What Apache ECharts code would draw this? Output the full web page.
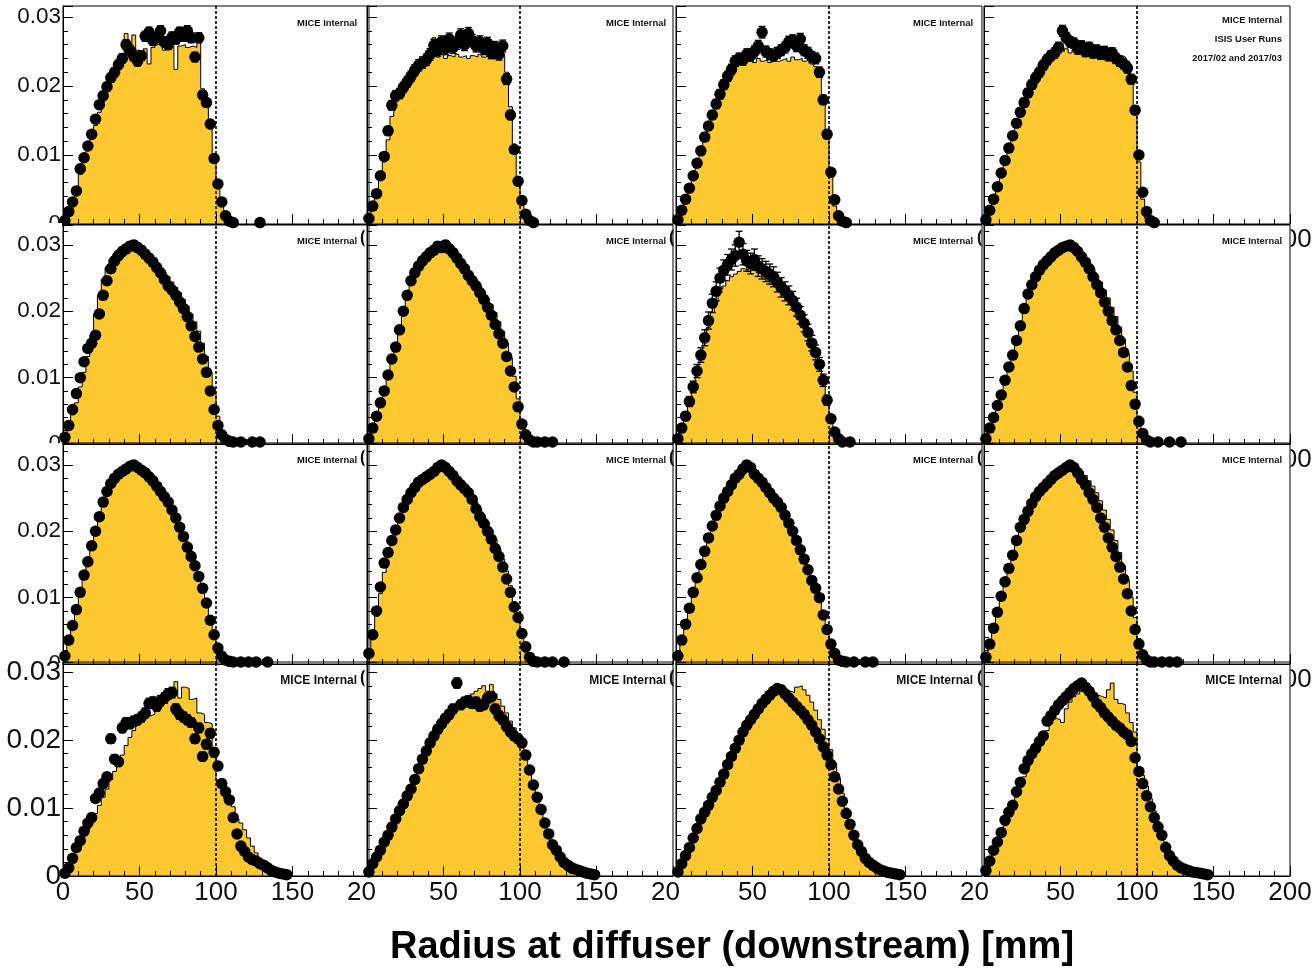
<!DOCTYPE html>
<html>
<head>
<meta charset="utf-8">
<script src="https://cdn.jsdelivr.net/npm/echarts@6/dist/echarts.min.js"></script>
<style>
  html, body { margin: 0; padding: 0; background: #fff; }
  #chart { width: 1316px; height: 973px; }
</style>
</head>
<body>
<div id="chart"></div>
<script>
// Radius at the downstream diffuser, 16 beam settings (4 x 4 pads).
// Values are fractions of tracks per 2.5 mm bin, stored in units of 1e-3.
// hist_* : simulation histogram, data_* : measured points.
const binWidth = 2.5; // mm
const xTicks = [0, 50, 100, 150, 200];
const yTicks = [0, 10, 20, 30];
const yTickLabels = ['0', '0.01', '0.02', '0.03'];
const cutLine = 100; // mm

// ---- row 1
const data_r1c1 = [0.5,1.8,3.2,4.8,8.0,9.6,11.3,13.0,15.2,17.3,18.6,19.9,21.2,22.0,23.1,24.0,26.0,25.2,24.3,23.6,24.4,27.2,27.8,26.6,27.0,28.0,26.4,26.0,27.1,26.8,27.8,27.2,28.0,27.0,24.2,27.0,18.7,17.6,14.5,9.5,5.8,3.2,1.2,0.4,0.2,0,0,0,0,0,0,0.2];
const hist_r1c1 = [0.6,1.9,3.4,5.0,7.2,9.0,10.8,12.5,14.3,16.2,17.8,19.2,20.6,21.8,23.0,24.0,27.6,24.6,27.4,25.2,24.8,25.4,23.2,25.6,26.0,25.8,25.2,25.6,25.8,22.4,25.8,26.0,25.6,25.8,25.6,26.4,19.6,17.2,13.8,9.8,6.4,2.8,0.4,0.1];
const data_r1c2 = [0.8,2.6,4.4,7.0,9.8,13.5,17.2,18.6,18.9,19.8,20.6,21.4,22.3,23.0,23.4,23.8,24.6,25.9,25.2,26.4,25.4,26.8,25.6,26.2,27.4,26.0,27.6,26.6,25.8,26.4,25.4,26.2,24.8,25.6,24.6,25.8,21.0,15.8,10.8,6.2,3.4,1.4,0.5,0.2];
const hist_r1c2 = [0.7,2.3,4.0,6.4,9.0,12.2,15.6,17.8,18.6,19.4,20.4,21.2,22.2,23.0,23.6,24.0,24.2,27.0,24.2,26.8,24.0,24.4,24.2,24.6,24.2,24.4,24.0,24.4,24.2,24.6,24.2,24.4,24.0,24.2,24.4,24.6,22.0,17.0,11.6,6.8,3.0,0.8,0.2];
const data_r1c3 = [0.6,2.0,3.6,5.2,7.0,8.8,10.6,12.6,14.2,15.8,17.4,18.8,20.2,21.4,22.4,23.6,24.0,23.8,24.6,24.4,25.0,25.8,27.8,25.0,24.6,24.4,24.8,25.2,25.6,26.4,26.6,25.8,26.8,25.2,24.8,24.2,24.0,22.0,18.0,13.0,7.5,3.5,1.2,0.4,0.2];
const hist_r1c3 = [0.6,1.9,3.4,5.0,6.8,8.6,10.4,12.2,14.0,15.6,17.2,18.6,20.0,21.2,22.2,23.0,23.4,23.2,23.6,23.8,23.4,24.0,23.6,23.8,23.4,24.2,23.6,23.8,24.0,23.6,24.2,23.8,24.0,23.6,23.8,23.2,22.8,21.6,17.6,12.4,7.0,2.6,0.6];
const data_r1c4 = [0.6,2.0,3.6,5.4,7.4,9.2,11.0,12.8,14.6,16.2,17.6,19.0,20.2,21.2,22.0,23.0,23.8,24.4,24.8,25.6,28.0,27.0,26.4,26.2,25.4,25.8,25.0,25.6,24.8,25.2,24.6,25.0,24.4,24.8,24.0,23.6,23.2,22.6,21.0,16.5,10.0,4.6,1.8,0.5,0.2];
const hist_r1c4 = [0.6,1.9,3.5,5.2,7.0,8.8,10.6,12.4,14.2,15.8,17.2,18.6,19.8,21.0,22.0,22.8,23.6,24.2,24.8,25.2,25.0,25.4,24.8,25.2,24.6,25.0,24.4,24.8,24.6,24.2,24.6,24.4,24.2,24.6,24.0,24.4,24.2,23.6,21.6,16.0,9.0,3.6,0.8,0.2];

// ---- row 2
const data_r2c1 = [1.0,2.8,5.2,7.6,10.0,12.4,14.4,15.2,16.4,19.6,22.4,24.6,26.4,27.6,28.4,29.0,29.4,29.8,30.0,29.6,29.2,28.6,28.0,27.4,26.6,25.8,24.8,23.8,23.2,22.4,21.4,20.4,19.2,17.8,16.2,14.6,12.8,10.8,8.0,5.2,2.8,1.4,0.7,0.4,0.3,0,0.3,0,0,0.3,0,0.3];
const hist_r2c1 = [0.8,2.4,4.4,6.2,8.6,10.8,13.2,16.4,19.6,22.4,24.8,26.6,27.8,28.6,29.2,29.6,30.0,29.4,29.8,29.2,28.8,28.4,28.0,27.6,27.0,26.4,25.8,25.2,24.4,23.6,22.8,21.8,20.8,19.6,18.4,17.0,15.2,13.2,10.8,7.6,4.2,1.6,0.4,0.1];
const data_r2c2 = [0.8,2.4,4.2,6.2,8.0,10.4,12.8,14.6,17.2,20.0,22.4,24.6,25.8,26.8,27.6,28.2,28.8,29.2,29.8,29.6,30.0,29.4,28.8,28.0,27.2,26.4,25.4,24.6,23.8,22.8,21.8,20.6,19.4,18.0,16.6,15.2,13.2,11.0,8.6,5.6,3.0,1.4,0.6,0.3,0.3,0,0.3,0,0.3];
const hist_r2c2 = [0.7,2.2,4.0,5.8,7.8,10.0,12.4,14.8,17.4,20.0,22.4,24.4,26.0,27.2,28.0,28.8,29.4,29.8,30.2,30.0,29.6,29.4,28.6,28.2,27.6,26.8,26.0,25.4,24.6,23.8,23.0,22.0,21.0,19.8,18.4,17.0,15.2,13.0,10.2,6.8,3.4,1.2,0.3];
const data_r2c3 = [0.8,2.4,4.2,6.4,8.6,11.0,13.4,16.0,18.6,21.2,23.0,25.0,26.2,27.0,27.8,28.4,30.4,28.6,27.6,27.2,27.8,26.8,26.4,26.0,25.6,25.2,24.4,23.6,23.0,22.4,21.6,20.6,19.4,18.2,16.8,15.2,13.8,12.0,9.6,6.6,3.8,1.8,0.8,0.3,0,0.3];
const hist_r2c3 = [0.8,2.4,4.2,6.2,8.4,10.8,13.0,15.4,17.6,19.8,21.4,22.8,23.8,24.6,25.2,25.6,26.0,26.4,26.2,26.6,26.2,25.8,25.6,25.0,24.6,24.2,23.6,23.0,22.4,21.8,21.0,20.2,19.2,18.2,17.0,15.6,14.0,12.2,9.8,6.8,3.6,1.4,0.4,0.1];
const data_r2c4 = [0.8,2.4,4.0,5.8,7.4,9.6,11.6,13.4,15.6,17.8,20.4,22.6,24.0,25.2,26.2,27.0,27.6,28.2,28.8,29.2,29.6,29.8,30.0,29.6,29.0,28.2,27.4,26.4,25.2,24.0,22.8,21.4,20.0,18.6,17.2,15.6,13.8,11.6,8.8,6.0,3.4,1.6,0.6,0.3,0,0.3,0,0,0.3,0,0,0.3];
const hist_r2c4 = [0.7,2.2,3.8,5.6,7.4,9.4,11.4,13.6,15.8,18.0,20.2,22.2,23.8,25.2,26.4,27.4,28.2,28.8,29.2,29.6,29.8,30.0,29.8,29.6,29.2,28.6,28.0,27.2,26.4,25.4,24.4,23.2,22.0,20.6,19.2,17.6,15.8,13.6,11.0,7.8,4.2,1.6,0.4];

// ---- row 3
const data_r3c1 = [1.2,3.6,5.8,8.2,10.8,13.4,15.4,17.8,20.0,22.2,24.4,26.0,27.2,28.0,28.6,29.0,29.4,29.8,30.0,29.6,29.2,28.8,28.2,27.6,26.8,26.0,25.2,24.4,23.2,22.0,20.6,19.2,17.6,16.2,14.8,13.2,11.4,9.2,6.6,4.4,2.4,1.2,0.6,0.4,0.3,0,0.3,0,0.3,0,0.3,0,0,0.3];
const hist_r3c1 = [1.0,3.2,5.4,7.8,10.2,12.8,15.2,17.6,19.8,22.0,24.0,25.8,27.0,28.0,28.6,29.2,29.0,29.6,29.2,29.4,28.8,28.6,28.2,27.8,27.2,26.4,25.6,24.6,23.6,22.4,21.2,19.8,18.4,17.0,15.4,13.8,12.0,9.8,7.2,4.6,2.2,0.8,0.2];
const data_r3c2 = [1.6,4.4,8.0,11.6,15.2,16.8,18.6,20.2,22.0,23.6,24.8,25.8,26.6,27.4,27.8,28.2,28.6,29.0,29.6,30.0,29.6,29.0,28.4,27.6,27.0,26.4,25.8,24.8,23.4,22.2,21.2,20.0,18.8,17.4,16.2,14.6,12.8,10.8,8.6,7.0,4.6,2.6,1.0,0.4,0.3,0,0.3,0,0.3,0,0,0.3];
const hist_r3c2 = [1.4,4.0,7.2,10.6,13.8,16.4,18.4,20.2,21.8,23.2,24.4,25.6,26.4,27.2,27.8,28.4,28.8,29.2,29.6,29.4,29.8,29.2,28.8,28.0,27.6,26.8,26.0,25.2,24.4,23.4,22.4,21.4,20.2,18.8,17.4,15.8,14.0,11.8,9.4,7.2,4.4,1.8,0.4];
const data_r3c3 = [1.2,3.6,6.0,8.4,10.8,13.0,15.0,17.0,19.0,20.8,22.4,23.8,25.0,26.0,27.0,28.0,28.6,29.4,30.0,29.6,28.6,28.0,27.4,26.6,25.8,25.0,24.4,23.6,22.4,21.2,20.0,18.6,17.2,15.8,14.2,12.6,11.4,10.0,7.4,5.2,3.0,1.6,0.6,0.4,0.3,0,0.3,0,0,0.3,0,0.3];
const hist_r3c3 = [1.0,3.2,5.6,8.0,10.4,12.6,14.8,16.8,18.8,20.6,22.2,23.6,24.8,26.0,27.0,27.8,28.4,29.0,29.6,29.8,29.2,28.6,27.8,27.0,26.2,25.4,24.6,23.8,22.8,21.6,20.4,19.0,17.6,16.2,14.6,13.0,11.4,9.8,7.6,5.2,2.6,0.9,0.2];
const data_r3c4 = [1.0,3.0,5.4,7.8,10.2,12.4,14.4,16.4,18.6,20.6,21.8,23.0,24.2,25.2,26.0,26.6,27.2,27.8,28.4,28.8,29.2,29.6,30.0,29.6,28.8,27.8,27.0,25.8,24.8,23.6,22.0,20.6,19.0,17.6,16.2,14.6,12.8,10.6,8.0,5.2,3.0,1.4,0.6,0.3,0.3,0,0.3,0,0.3,0,0.3];
const hist_r3c4 = [0.9,2.8,5.0,7.4,9.8,12.0,14.2,16.4,18.4,20.2,21.8,23.2,24.4,25.4,26.2,27.0,27.6,28.2,28.8,29.2,29.6,29.8,29.6,29.8,29.4,29.0,28.4,27.6,26.8,25.8,24.6,23.2,21.8,20.2,18.6,16.8,14.8,12.6,10.0,7.0,3.8,1.4,0.4];

// ---- row 4
const data_r4c1 = [0.4,1.2,2.6,4.2,5.2,6.6,7.8,8.6,11.4,12.2,13.6,14.6,20.2,17.2,16.8,21.8,22.6,22.4,22.8,23.0,23.4,24.0,25.4,25.6,25.0,25.8,26.2,26.8,27.0,24.6,23.8,23.4,23.0,22.6,20.2,21.8,17.6,19.4,21.0,18.2,16.2,13.6,12.4,11.2,8.6,6.2,4.4,3.6,2.8,2.4,2.2,1.8,1.6,1.2,0.8,0.6,0.4,0.3,0.2];
const hist_r4c1 = [0.4,1.2,2.4,3.6,4.8,5.8,6.8,8.0,9.2,10.4,11.6,12.8,14.2,15.4,16.6,17.8,19.2,20.4,21.4,22.2,23.0,23.4,23.6,23.8,24.4,25.2,26.0,26.4,27.0,28.6,26.2,27.8,27.6,26.0,26.2,24.0,23.8,22.6,22.4,18.6,14.0,13.6,11.4,10.8,10.2,8.4,7.8,6.8,5.6,4.4,3.4,2.6,1.8,0.6,0.2];
const data_r4c2 = [0.6,1.8,2.8,3.8,5.0,6.0,7.2,8.4,9.6,10.6,11.8,12.8,14.2,15.8,17.2,18.4,19.6,20.6,21.6,22.4,23.2,23.8,24.6,28.4,25.2,25.6,25.8,25.4,25.6,25.0,25.2,26.2,26.4,24.6,23.6,23.0,22.0,21.2,20.6,20.2,19.6,17.8,15.6,13.4,11.6,9.8,7.8,6.2,4.6,3.8,2.8,2.0,1.6,1.2,1.0,0.8,0.6,0.4,0.3,0.2];
const hist_r4c2 = [0.5,1.6,2.6,3.6,4.8,5.8,7.0,8.2,9.4,10.6,11.8,13.0,14.4,15.8,17.0,18.2,19.4,20.4,21.4,22.2,23.0,23.6,24.2,24.8,25.4,25.8,26.4,26.8,27.2,27.6,28.0,27.2,28.2,26.8,26.0,25.0,24.0,22.8,21.8,20.8,19.2,17.4,15.4,13.2,11.2,9.2,7.4,5.8,4.4,3.2,2.2,1.4,0.8,0.4,0.2];
const data_r4c3 = [0.6,1.8,3.0,4.2,5.6,7.0,8.4,9.4,10.4,11.6,12.6,13.8,15.0,16.4,17.6,18.8,20.0,21.2,22.2,23.0,23.8,24.6,25.4,26.0,26.6,27.2,27.6,27.4,26.8,26.2,25.6,25.0,24.4,23.8,23.0,22.2,21.2,20.2,19.0,17.8,16.4,14.6,12.8,11.0,9.2,7.6,6.0,4.6,3.6,2.6,2.0,1.6,1.2,0.9,0.7,0.5,0.4,0.3,0.2];
const hist_r4c3 = [0.5,1.6,2.8,4.0,5.4,6.8,8.2,9.4,10.6,11.8,13.0,14.2,15.4,16.6,17.8,19.0,20.2,21.2,22.2,23.2,24.0,24.8,25.4,26.0,26.6,27.0,27.2,27.4,27.6,27.2,27.0,27.8,28.0,27.4,26.6,25.6,24.4,23.0,21.6,20.2,18.6,16.6,14.4,12.2,10.0,8.0,6.2,4.6,3.2,2.2,1.4,0.8,0.4,0.2];
const data_r4c4 = [0.8,2.2,3.8,5.0,6.4,8.2,9.4,10.4,12.4,13.8,15.8,17.0,18.0,18.8,19.8,20.6,22.8,23.6,24.4,25.2,25.8,26.4,27.0,27.6,28.0,28.4,27.8,27.2,26.4,25.4,24.8,24.0,23.4,22.8,22.2,21.8,21.2,20.8,19.8,17.4,15.4,13.6,11.8,10.2,8.6,7.2,6.0,4.2,3.0,2.2,1.6,1.2,1.0,0.8,0.6,0.5,0.4,0.3,0.2];
const hist_r4c4 = [0.6,1.8,3.2,4.4,5.8,7.4,8.8,10.0,11.6,13.0,14.6,16.0,17.2,18.4,19.4,20.4,21.4,22.4,23.2,23.0,22.6,24.6,25.6,26.4,26.8,27.2,27.6,27.4,27.0,26.6,26.4,26.2,27.4,28.4,26.0,25.4,25.2,24.0,22.6,21.2,15.6,14.8,13.2,11.4,9.6,8.0,6.4,5.0,3.6,2.6,1.6,0.8,0.2];

// statistical error scale per pad: error = k * sqrt(value)
const errScale_r1 = [0.14, 0.17, 0.16, 0.15];
const errScale_r2 = [0.12, 0.12, 0.30, 0.10];
const errScale_r3 = [0.08, 0.09, 0.08, 0.08];
const errScale_r4 = [0.15, 0.14, 0.10, 0.08];

const panels = [
  [[hist_r1c1, data_r1c1], [hist_r1c2, data_r1c2], [hist_r1c3, data_r1c3], [hist_r1c4, data_r1c4]],
  [[hist_r2c1, data_r2c1], [hist_r2c2, data_r2c2], [hist_r2c3, data_r2c3], [hist_r2c4, data_r2c4]],
  [[hist_r3c1, data_r3c1], [hist_r3c2, data_r3c2], [hist_r3c3, data_r3c3], [hist_r3c4, data_r3c4]],
  [[hist_r4c1, data_r4c1], [hist_r4c2, data_r4c2], [hist_r4c3, data_r4c3], [hist_r4c4, data_r4c4]]
];
const errScale = [errScale_r1, errScale_r2, errScale_r3, errScale_r4];

// ---- pad layout (pixels)
const FONT = '"Liberation Sans", Arial, Helvetica, sans-serif';
const YELLOW = '#fdc830';
const colLeft = [63, 367, 676, 984];
const colWidth = 306;
const rowTop = [6, 225, 443, 662];
const rowZero = [224, 444, 664, 876];
const yMax = [31.6, 33.0, 33.3, 31.5];
const yLabelSize = [22.5, 22.5, 22.5, 28];
const xLabelSize = 26;
const stampRight = [357, 666, 973, 1282];
const stampY = [23, 241, 460, 681];

const yLabel = v => {
  const k = yTicks.indexOf(v);
  return k >= 0 ? yTickLabels[k] : '';
};

const grid = [], xAxis = [], yAxis = [], series = [], graphic = [];

for (let r = 0; r < 4; r++) {
  for (let c = 0; c < 4; c++) {
    const idx = r * 4 + c;
    const [hist, data] = panels[r][c];
    grid.push({
      left: colLeft[c], top: rowTop[r], width: colWidth, height: rowZero[r] - rowTop[r],
      show: true, borderColor: '#000', borderWidth: 1, backgroundColor: 'transparent',
      containLabel: false, outerBoundsMode: 'none', z: 8
    });

    const bottomRow = r === 3;
    xAxis.push({
      type: 'value', gridIndex: idx, min: xTicks[0], max: xTicks[xTicks.length - 1],
      interval: xTicks[1] - xTicks[0], z: 10,
      axisLine: { show: true, onZero: false, lineStyle: { color: '#000', width: 1 } },
      axisTick: { show: true, inside: true, length: 10, lineStyle: { color: '#000', width: 1 } },
      minorTick: { show: true, splitNumber: 5, length: 5, lineStyle: { color: '#000', width: 1 } },
      splitLine: { show: false }, minorSplitLine: { show: false },
      axisLabel: bottomRow ? {
        show: true, fontSize: xLabelSize, fontFamily: FONT, color: '#111', margin: 4,
        formatter: v => {
          if (v === 0 && c > 0) return '';
          if (v === 200 && c < 3) return '{cut|20}';
          return String(v);
        },
        rich: { cut: { fontSize: xLabelSize, fontFamily: FONT, color: '#111', padding: [0, 15, 0, 0] } }
      } : { show: false }
    });

    // major ticks + labels
    yAxis.push({
      type: 'value', gridIndex: idx, min: 0, max: yMax[r], interval: 10, position: 'left', offset: 0, z: 10,
      axisLine: { show: true, onZero: false, lineStyle: { color: '#000', width: 1 } },
      axisTick: { show: true, inside: true, length: 10, lineStyle: { color: '#000', width: 1 } },
      splitLine: { show: false },
      axisLabel: c === 0 ? {
        show: true, fontSize: yLabelSize[r], fontFamily: FONT, color: '#111', margin: 2,
        formatter: v => (v === 0 && r < 3) ? '' : yLabel(v)
      } : { show: false }
    });
    // minor ticks every 0.002
    yAxis.push({
      type: 'value', gridIndex: idx, min: 0, max: yMax[r], interval: 2, position: 'left', offset: 0, z: 10,
      axisLine: { show: false, onZero: false },
      axisTick: { show: true, inside: true, length: 5, lineStyle: { color: '#000', width: 1 } },
      splitLine: { show: false }, axisLabel: { show: false }
    });
    const yIdx = idx * 2;

    // simulated histogram as a filled step outline
    const steps = hist.map((v, i) => [i * binWidth, v]);
    steps.push([hist.length * binWidth, hist[hist.length - 1]]);
    steps.push([hist.length * binWidth, 0]);
    series.push({
      type: 'line', xAxisIndex: idx, yAxisIndex: yIdx, step: 'end', data: steps,
      symbol: 'none', silent: true, z: 2,
      lineStyle: { color: '#000', width: 1 },
      areaStyle: { color: YELLOW, opacity: 1 },
      markLine: {
        silent: true, symbol: ['none', 'none'], label: { show: false },
        lineStyle: { color: '#000', width: 1.6, type: [3, 2] },
        data: [{ xAxis: cutLine }]
      }
    });

    // measured points with statistical error bars
    const pts = [];
    data.forEach((v, i) => {
      if (v > 0) pts.push([i * binWidth + binWidth / 2, v, errScale[r][c] * Math.sqrt(v)]);
    });
    series.push({
      type: 'custom', xAxisIndex: idx, yAxisIndex: yIdx, data: pts, silent: true, z: 3,
      renderItem: (params, api) => {
        const x = api.value(0), v = api.value(1), e = api.value(2);
        const top = api.coord([x, v + e]);
        const bot = api.coord([x, Math.max(0, v - e)]);
        const st = { stroke: '#000', lineWidth: 1.3 };
        return {
          type: 'group', children: [
            { type: 'line', shape: { x1: top[0], y1: top[1], x2: bot[0], y2: bot[1] }, style: st },
            { type: 'line', shape: { x1: top[0] - 3.5, y1: top[1], x2: top[0] + 3.5, y2: top[1] }, style: st },
            { type: 'line', shape: { x1: bot[0] - 3.5, y1: bot[1], x2: bot[0] + 3.5, y2: bot[1] }, style: st }
          ]
        };
      }
    });
    series.push({
      type: 'scatter', xAxisIndex: idx, yAxisIndex: yIdx, silent: true, z: 4,
      data: pts.map(p => [p[0], p[1]]),
      symbol: 'circle', symbolSize: 11.5, itemStyle: { color: '#000', opacity: 1 }
    });

    // pad stamp
    const big = r === 3;
    graphic.push({
      type: 'text', x: stampRight[c], y: (r === 0 && c === 3) ? 20 : stampY[r], z: 9, silent: true,
      style: { text: 'MICE Internal', fill: '#111', font: `bold ${big ? 12 : 9.4}px ${FONT}`,
               align: 'right', textAlign: 'right', verticalAlign: 'middle', textVerticalAlign: 'middle' }
    });
  }
}

// run information in the top-right pad
[['ISIS User Runs', 39], ['2017/02 and 2017/03', 58]].forEach(([t, y]) => {
  graphic.push({
    type: 'text', x: stampRight[3], y, z: 9, silent: true,
    style: { text: t, fill: '#111', font: `bold 9.4px ${FONT}`,
             align: 'right', textAlign: 'right', verticalAlign: 'middle', textVerticalAlign: 'middle' }
  });
});

// tick labels of the upper pads, partly covered by the pads below
const tickText = (text, x, y, size, align) => ({
  type: 'text', x, y, z: 5, silent: true,
  style: { text, fill: '#111', font: `${size}px ${FONT}`, align, textAlign: align,
           verticalAlign: 'middle', textVerticalAlign: 'middle' }
});
const cover = (x, y, w, h) => ({
  type: 'rect', z: 6, silent: true, shape: { x, y, width: w, height: h }, style: { fill: '#fff' }
});
for (let r = 0; r < 3; r++) {
  graphic.push(tickText('0', colLeft[0] - 2, rowZero[r], yLabelSize[r], 'right'));
  graphic.push(cover(0, rowZero[r] - 1, colLeft[0] - 1, 12));
  for (let c = 1; c < 4; c++) {
    graphic.push(tickText('0', colLeft[c], rowZero[r] + 16, xLabelSize, 'center'));
    graphic.push(cover(colLeft[c] - 2.5, rowZero[r] + 3, 16, 28));
  }
  const right = colLeft[3] + colWidth;
  graphic.push(tickText('200', right, rowZero[r] + 16, xLabelSize, 'center'));
  graphic.push(cover(right - 40, rowZero[r] + 3, 40.5, 28));
}

// axis title
graphic.push({
  type: 'text', x: 732, y: 948, z: 9, silent: true,
  style: { text: 'Radius at diffuser (downstream) [mm]', fill: '#000', font: `bold 38px ${FONT}`,
           align: 'center', textAlign: 'center', verticalAlign: 'middle', textVerticalAlign: 'middle' }
});

const chart = echarts.init(document.getElementById('chart'), null, { renderer: 'canvas' });
chart.setOption({
  animation: false,
  backgroundColor: '#fff',
  grid, xAxis, yAxis, series, graphic
});
</script>
</body>
</html>
